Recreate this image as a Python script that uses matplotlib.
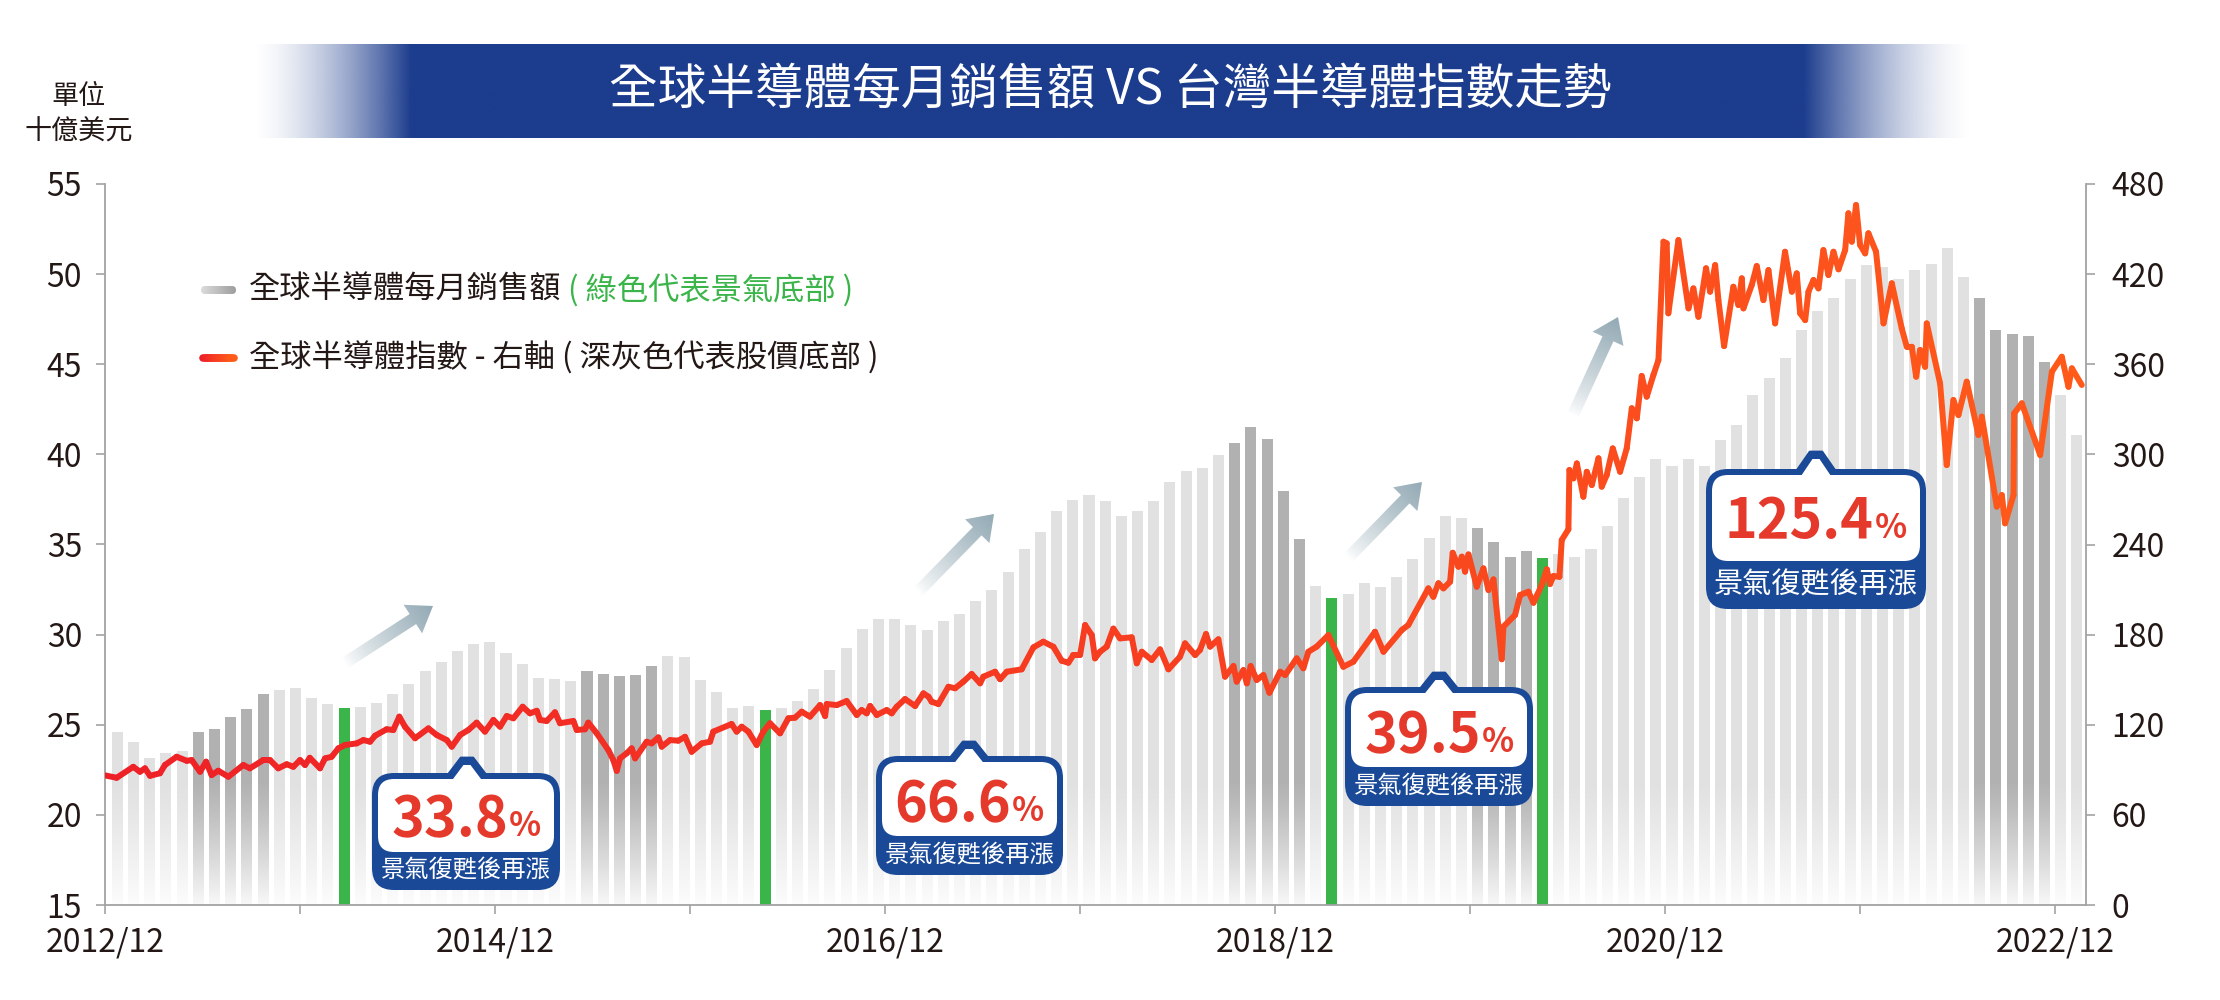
import numpy as np
import matplotlib
matplotlib.use('Agg')
import matplotlib.pyplot as plt
from matplotlib.collections import LineCollection
from matplotlib.patches import Polygon, FancyBboxPatch
from matplotlib.colors import to_rgb

plt.rcParams['font.family'] = ['Noto Sans CJK TC', 'DejaVu Sans']

# ---- data ----
# global semiconductor monthly sales, billion USD, 2013/01 .. 2023/02
sales = [24.6, 24.04, 23.14, 23.41, 23.54, 24.6, 24.75, 25.43, 25.87, 26.7,
         26.91, 27.06, 26.48, 26.15, 25.93, 26.0, 26.22, 26.7, 27.28, 27.96,
         28.46, 29.09, 29.5, 29.57, 28.96, 28.39, 27.61, 27.54, 27.41, 27.96,
         27.83, 27.7, 27.78, 28.26, 28.81, 28.76, 27.48, 26.8, 25.95, 26.04,
         25.82, 25.95, 26.3, 27.0, 28.05, 29.26, 30.31, 30.87, 30.87, 30.51,
         30.24, 30.74, 31.14, 31.87, 32.48, 33.46, 34.73, 35.71, 36.86, 37.47,
         37.75, 37.41, 36.56, 36.86, 37.41, 38.47, 39.09, 39.22, 39.95, 40.63,
         41.54, 40.85, 37.97, 35.29, 32.68, 32.05, 32.27, 32.84, 32.62, 33.2,
         34.18, 35.36, 36.56, 36.49, 35.93, 35.14, 34.31, 34.66, 34.23, 34.47,
         34.31, 34.73, 36.0, 37.6, 38.75, 39.74, 39.37, 39.74, 39.37, 40.8,
         41.63, 43.31, 44.24, 45.35, 46.9, 47.95, 48.67, 49.73, 50.48, 50.4,
         49.73, 50.23, 50.54, 51.45, 49.84, 48.67, 46.9, 46.7, 46.55, 45.14,
         43.31, 41.05]

# bar numbers (1 = 2013/01) marking bottoms
stock_bottom = [6, 7, 8, 9, 10, 30, 31, 32, 33, 34, 70, 71, 72, 73, 74,
                85, 86, 87, 88, 116, 117, 118, 119, 120]
cycle_bottom = [15, 41, 76, 89]

# Taiwan semiconductor index (right axis), months after 2012/12
idx_month = [0.0, 0.72, 1.74, 2.15, 2.46, 2.77, 3.38, 3.69, 4.41, 5.03, 5.33, 5.85, 6.22, 6.56,
             6.97, 7.59, 8.51, 8.92, 9.74, 10.15, 10.66, 11.18, 11.59, 12.0, 12.31, 12.6, 13.23,
             13.54, 13.95, 14.36, 14.77, 15.49, 15.9, 16.31, 16.62, 17.33, 17.74, 18.11, 18.46,
             19.08, 19.9, 20.41, 21.03, 21.34, 21.85, 22.36, 22.87, 23.38, 23.9, 24.31, 24.72,
             25.13, 25.7, 26.15, 26.57, 26.77, 27.18, 27.69, 28.0, 28.82, 29.03, 29.54, 29.74,
             30.26, 30.97, 31.28, 31.49, 31.69, 32.1, 32.41, 32.62, 33.33, 33.64, 34.05, 34.26,
             34.77, 35.28, 35.69, 36.1, 36.72, 37.23, 37.43, 38.56, 38.87, 39.18, 39.59, 40.1,
             40.51, 40.92, 41.54, 42.05, 42.46, 42.87, 43.38, 44.0, 44.31, 44.41, 45.03, 45.64,
             46.26, 46.56, 46.87, 47.08, 47.49, 48.1, 48.41, 48.72, 49.23, 49.85, 50.36, 50.67,
             50.87, 51.28, 51.9, 52.31, 52.82, 53.33, 53.85, 54.05, 54.77, 55.08, 55.49, 56.41,
             57.13, 57.74, 58.36, 58.87, 59.28, 59.59, 60.0, 60.31, 60.72, 60.92, 61.23, 61.64,
             62.05, 62.46, 63.18, 63.49, 63.8, 64.41, 64.92, 65.44, 66.15, 66.46, 67.08, 67.38,
             67.75, 68.0, 68.51, 68.92, 69.44, 69.64, 70.05, 70.26, 70.5, 70.87, 71.28, 71.65,
             72.31, 72.62, 73.33, 73.74, 74.05, 74.56, 75.28, 76.2, 76.82, 78.15, 78.67, 79.8,
             80.2, 81.43, 81.74, 82.05, 82.36, 82.77, 82.93, 83.28, 83.49, 83.69, 83.9, 84.41,
             84.82, 85.13, 85.44, 85.95, 86.05, 86.77, 87.08, 87.59, 87.9, 88.41, 88.72, 88.92,
             89.13, 89.5, 89.64, 90.05, 90.11, 90.36, 90.57, 90.97, 91.18, 91.49, 91.9, 92.1,
             92.41, 92.78, 93.23, 93.64, 93.95, 94.26, 94.56, 94.87, 95.28, 95.59, 95.9, 96.1,
             96.2, 96.82, 97.44, 97.74, 98.05, 98.52, 98.77, 99.08, 99.28, 99.63, 100.2, 100.51,
             100.72, 100.82, 101.33, 101.64, 102.05, 102.36, 102.77, 103.38, 103.8, 104.1,
             104.31, 104.62, 104.82, 105.13, 105.44, 105.74, 106.05, 106.36, 106.67, 107.08,
             107.28, 107.49, 107.75, 108.0, 108.31, 108.51, 108.98, 109.44, 109.95, 110.56,
             110.87, 111.18, 111.45, 111.69, 112.0, 112.1, 112.92, 113.33, 113.74, 114.05,
             114.56, 115.28, 115.49, 116.41, 116.72, 116.92, 117.44, 117.48, 117.95, 119.08,
             119.8, 120.41, 120.82, 121.03, 121.64]
idx_value = [86.3, 84.7, 92.0, 88.7, 91.0, 86.0, 87.7, 93.2, 98.7, 96.0, 96.5, 88.7, 95.4, 86.5,
             89.4, 85.4, 93.2, 91.0, 96.5, 96.5, 91.0, 93.7, 92.0, 96.5, 93.2, 98.0, 91.0,
             97.6, 98.7, 104.3, 106.5, 107.6, 109.8, 108.7, 112.7, 117.0, 116.5, 125.4, 118.7,
             111.0, 117.6, 113.2, 109.8, 105.4, 113.2, 116.5, 121.4, 115.4, 123.2, 118.7, 125.8,
             124.3, 132.0, 127.6, 129.3, 123.2, 122.5, 128.3, 121.0, 122.5, 116.5, 117.0, 121.4,
             114.3, 103.2, 96.5, 89.3, 97.6, 101.0, 104.3, 97.6, 108.7, 107.6, 111.6, 105.4,
             109.8, 109.4, 112.0, 102.0, 107.6, 108.7, 115.4, 120.5, 115.4, 118.7, 115.4, 106.5,
             115.4, 121.0, 114.3, 124.3, 124.7, 128.7, 125.4, 133.1, 125.8, 133.8, 133.1, 135.8,
             126.5, 129.8, 127.6, 132.5, 126.5, 129.8, 127.6, 132.0, 137.1, 132.5, 140.9, 138.7,
             135.3, 133.8, 145.3, 144.3, 148.7, 153.8, 147.6, 152.0, 155.3, 150.3, 155.3, 156.9,
             171.5, 175.3, 171.9, 162.6, 161.3, 166.4, 166.4, 186.4, 179.7, 164.2, 168.6, 172.0,
             184.0, 177.5, 178.2, 160.9, 168.6, 163.1, 170.2, 156.9, 165.3, 174.2, 166.4, 169.8,
             180.4, 172.0, 176.9, 152.0, 159.1, 148.7, 156.4, 147.6, 159.1, 149.8, 153.1, 141.3,
             155.3, 153.1, 164.2, 157.6, 168.6, 172.0, 179.7, 158.6, 162.0, 181.9, 168.6, 183.1,
             186.4, 210.8, 205.2, 214.2, 210.8, 215.2, 234.5, 225.2, 231.9, 221.9, 233.4, 211.9,
             224.1, 209.7, 216.8, 163.6, 185.3, 193.1, 206.4, 208.6, 201.2, 213.0, 223.5, 213.7,
             219.0, 218.5, 243.0, 250.1, 289.6, 284.0, 294.0, 271.8, 288.4, 279.6, 297.4, 278.5,
             286.3, 304.0, 288.4, 304.0, 330.7, 324.0, 352.2, 338.4, 352.8, 362.8, 441.6, 440.5,
             393.9, 442.7, 397.2, 410.5, 391.6, 423.9, 408.3, 426.0, 402.7, 372.1, 411.6, 399.4,
             417.2, 397.2, 412.7, 425.4, 402.7, 422.7, 387.2, 434.9, 408.3, 420.5,
             393.9, 389.4, 408.3, 416.1, 410.5, 436.0, 419.4, 434.9, 423.2, 436.0,
             460.5, 441.6, 466.0, 439.4, 433.8, 447.2, 434.9, 387.2, 413.9, 383.9,
             371.7, 371.7, 351.7, 369.5, 358.3, 387.2, 347.3, 292.9, 336.2, 326.2,
             348.4, 312.9, 325.1, 265.2, 272.9, 254.1, 272.9, 327.3, 334.0, 299.6,
             355.0, 365.0, 345.0, 357.3, 346.2]

year_labels = ['2012/12', '2014/12', '2016/12', '2018/12', '2020/12', '2022/12']
pct_labels = ['33.8', '66.6', '39.5', '125.4']
title = '全球半導體每月銷售額 VS 台灣半導體指數走勢'

# ---- colours ----
LIGHT, DARK, GREEN = '#e1e1e1', '#b1b1b1', '#3bb54a'
AXC, TXT = '#a3a3a3', '#231815'
BANNER, CBLUE, PRED = '#1c3c8d', '#1a4a97', '#e53a2b'
LINE0, LINE1 = '#ee2027', '#ff5a1a'

W, H = 2220, 1000
fig = plt.figure(figsize=(W / 100, H / 100), dpi=100)
ax = fig.add_axes([105 / W, 95 / H, 1981 / W, 721 / H])

n = len(sales)
bar_x = 0.76 + np.arange(n) * 0.9965
vals = np.array(sales)
num = np.arange(1, n + 1)
normal = ~np.isin(num, cycle_bottom)
bar_cols = [DARK if k in stock_bottom else LIGHT for k in num[normal]]
ax.bar(bar_x[normal], vals[normal] - 15, bottom=15, width=0.68, color=bar_cols, zorder=1)

# bars fade out to white towards the base
fade = np.ones((200, 1, 4))
fade[:, 0, 3] = np.linspace(0.93, 0.0, 200) ** 1.2
ax.imshow(fade, extent=(0, 122, 15, 22), origin='lower', aspect='auto',
          zorder=1.5, interpolation='bilinear')

green = np.isin(num, cycle_bottom)
ax.bar(bar_x[green], vals[green] - 15, bottom=15, width=0.68, color=GREEN, zorder=2)

ax.set_xlim(0, 121.9)
ax.set_ylim(15, 55)
ax.set_yticks(np.arange(15, 56, 5))
ax.set_xticks(np.arange(0, 121, 24))
ax.set_xticklabels(year_labels)
ax.set_xticks(np.arange(12, 121, 24), minor=True)
for s in ['top', 'right']:
    ax.spines[s].set_visible(False)
for s in ['left', 'bottom']:
    ax.spines[s].set_color(AXC)
    ax.spines[s].set_linewidth(1.3)
ax.tick_params(axis='y', length=6.5, width=1.2, color=AXC, labelsize=23, labelcolor=TXT, pad=10)
ax.tick_params(axis='x', which='both', length=6.5, width=1.2, color=AXC, labelsize=23,
               labelcolor=TXT, pad=9)

ax2 = ax.twinx()
ax2.set_ylim(0, 480)
ax2.set_yticks(np.arange(0, 481, 60))
for s in ['top', 'left', 'bottom']:
    ax2.spines[s].set_visible(False)
ax2.spines['right'].set_color(AXC)
ax2.spines['right'].set_linewidth(1.3)
ax2.tick_params(axis='y', length=6.5, width=1.2, color=AXC, labelsize=23, labelcolor=TXT, pad=12)

# index line, red fading to orange
pts = np.column_stack([idx_month, idx_value])
segs = np.stack([pts[:-1], pts[1:]], axis=1)
t = (pts[:-1, 0] + pts[1:, 0]) / 2 / 122
c0, c1 = np.array(to_rgb(LINE0)), np.array(to_rgb(LINE1))
lc = LineCollection(segs, colors=c0 + (c1 - c0) * t[:, None], linewidths=4.3,
                    capstyle='round', joinstyle='round', zorder=3)
ax2.add_collection(lc)

# ---- overlay in pixel units for banner, legend, arrows, callouts ----
ov = fig.add_axes([0, 0, 1, 1])
ov.set_axis_off()
ov.set_xlim(0, W)
ov.set_ylim(H, 0)
ov.set_autoscale_on(False)
rend = fig.canvas.get_renderer()

# title banner
xs = np.linspace(250, 1975, 800)
alpha = np.clip(np.minimum((xs - 250) / 160, (1975 - xs) / 170), 0, 1) ** 1.6
ban = np.zeros((1, len(xs), 4))
ban[..., :3] = to_rgb(BANNER)
ban[0, :, 3] = alpha
ov.imshow(ban, extent=(250, 1975, 138, 44), aspect='auto', interpolation='bilinear', zorder=1)
ov.text(1110, 90, title, color='white', fontsize=35, ha='center', va='center', zorder=2)

ov.text(79, 97, '單位', fontsize=19.5, color=TXT, ha='center', va='center')
ov.text(79, 132, '十億美元', fontsize=19.5, color=TXT, ha='center', va='center')

# legend
lg = np.zeros((1, 60, 4))
for i in range(3):
    lg[0, :, i] = np.linspace(0.86, 0.62, 60)
lg[..., 3] = 1
box = FancyBboxPatch((201, 286), 35, 8, boxstyle='round,pad=0,rounding_size=4',
                     fc='none', ec='none')
ov.add_patch(box)
im = ov.imshow(lg, extent=(201, 236, 294, 286), aspect='auto', interpolation='bilinear', zorder=2)
im.set_clip_path(box)
lx = np.linspace(203, 234, 12)
lsegs = [[(lx[i], 358), (lx[i + 1], 358)] for i in range(len(lx) - 1)]
lcols = [c0 + (c1 - c0) * f for f in np.linspace(0, 1, len(lsegs))]
ov.add_collection(LineCollection(lsegs, colors=lcols, linewidths=5.5, capstyle='round'))
t1 = ov.text(249, 290, '全球半導體每月銷售額', fontsize=22.5, color=TXT, va='center')
w1 = t1.get_window_extent(rend).width
ov.text(249 + w1 + 6, 290, '( 綠色代表景氣底部 )', fontsize=22.5, color=GREEN, va='center')
ov.text(249, 358, '全球半導體指數 - 右軸 ( 深灰色代表股價底部 )', fontsize=22.5, color=TXT,
        va='center')


def grad_arrow(tail, tip, w=12, hw=34, hl=24):
    tail = np.array(tail, float)
    tip = np.array(tip, float)
    d = tip - tail
    L = np.hypot(*d)
    u = d / L
    nn = np.array([-u[1], u[0]])
    base = tip - u * hl
    p = [tail + nn * w / 2, base + nn * w / 2, base + nn * hw / 2, tip,
         base - nn * hw / 2, base - nn * w / 2, tail - nn * w / 2]
    poly = Polygon(p, closed=True, fc='none', ec='none')
    ov.add_patch(poly)
    px = [q[0] for q in p]
    py = [q[1] for q in p]
    x0, x1, y0, y1 = min(px) - 2, max(px) + 2, min(py) - 2, max(py) + 2
    gx, gy = np.meshgrid(np.linspace(x0, x1, 200), np.linspace(y0, y1, 200))
    f = np.clip(((gx - tail[0]) * u[0] + (gy - tail[1]) * u[1]) / L, 0, 1)
    ca = np.array([1.0, 1.0, 1.0])
    cb = np.array(to_rgb('#92a9b4'))
    img = np.ones(gx.shape + (4,))
    for i in range(3):
        img[..., i] = ca[i] + (cb[i] - ca[i]) * f ** 0.8
    arr = ov.imshow(img, extent=(x0, x1, y0, y1), origin='lower', aspect='auto',
                    interpolation='bilinear', zorder=3)
    arr.set_clip_path(poly)


grad_arrow((345, 663), (433, 606))
grad_arrow((918, 592), (994, 514))
grad_arrow((1348, 558), (1422, 482))
grad_arrow((1573, 415), (1618, 317))


def callout(label, L, R, T, B, S, tip, pcx, base_y, fs_txt):
    ov.add_patch(FancyBboxPatch((L, T), R - L, B - T, boxstyle='round,pad=0,rounding_size=22',
                                fc=CBLUE, ec='none', zorder=5))
    ov.add_patch(Polygon([(pcx - 22, T + 6), (pcx - 6, tip), (pcx + 6, tip), (pcx + 22, T + 6)],
                         fc=CBLUE, ec=CBLUE, lw=2, joinstyle='round', zorder=5))
    ov.add_patch(FancyBboxPatch((L + 6, T + 6), R - L - 12, S - T - 6,
                                boxstyle='round,pad=0,rounding_size=16',
                                fc='white', ec='none', zorder=6))
    ov.add_patch(Polygon([(pcx - 17, T + 10), (pcx - 3.5, tip + 7), (pcx + 3.5, tip + 7),
                          (pcx + 17, T + 10)], fc='white', ec='none', zorder=6))
    tn = ov.text(0, base_y, label, fontsize=40, fontweight='bold', color=PRED,
                 va='baseline', ha='left', zorder=7)
    tp = ov.text(0, base_y, '%', fontsize=24, fontweight='bold', color=PRED,
                 va='baseline', ha='left', zorder=7)
    wn = tn.get_window_extent(rend).width
    wp = tp.get_window_extent(rend).width
    start = (L + R) / 2 - (wn + wp + 1) / 2
    tn.set_x(start)
    tp.set_x(start + wn + 1)
    ov.text((L + R) / 2, (S + B) / 2, '景氣復甦後再漲', fontsize=fs_txt, color='white',
            ha='center', va='center', zorder=7)


callout(pct_labels[0], 372, 560, 773, 890, 852, 758, 467, 836, 17.5)
callout(pct_labels[1], 876, 1063, 756, 875, 836, 742, 969, 821, 17.5)
callout(pct_labels[2], 1345, 1533, 687, 806, 767, 673, 1439, 752, 17.5)
callout(pct_labels[3], 1706, 1926, 469, 609, 561, 452, 1816, 538, 21)

ov.set_xlim(0, W)
ov.set_ylim(H, 0)
fig.savefig('out.png', dpi=100, facecolor='white')
